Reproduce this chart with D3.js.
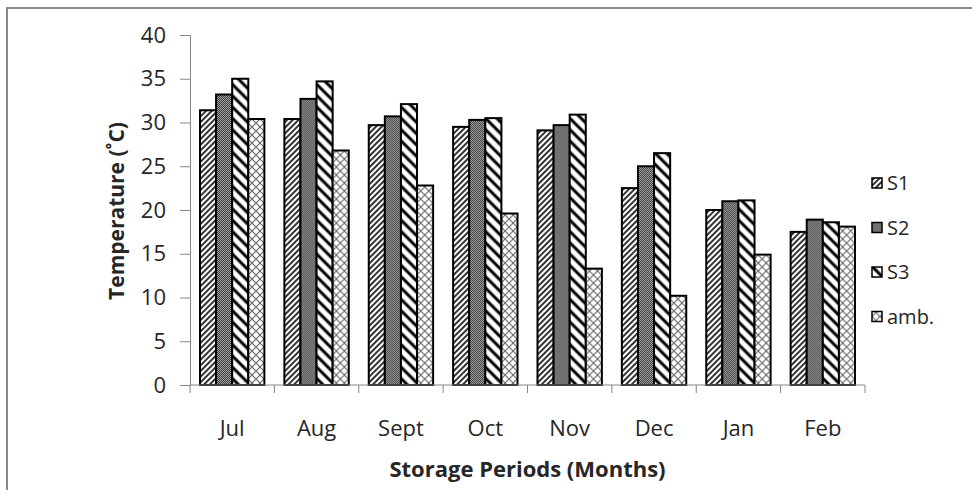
<!DOCTYPE html>
<html>
<head>
<meta charset="utf-8">
<script src="https://cdn.jsdelivr.net/npm/d3@7"></script>
<style>
  body { margin: 0; background: #fff; }
  text { font-family: "Open Sans", sans-serif; fill: #262626; }
</style>
</head>
<body>
<svg id="chart" width="972" height="490"></svg>
<script>
let months = ["Jul", "Aug", "Sept", "Oct", "Nov", "Dec", "Jan", "Feb"];
let seriesNames = ["S1", "S2", "S3", "amb."];
let s1Values = [31.4, 30.4, 29.7, 29.5, 29.1, 22.5, 20.0, 17.5];
let s2Values = [33.2, 32.7, 30.7, 30.3, 29.7, 25.0, 21.0, 18.9];
let s3Values = [35.0, 34.7, 32.1, 30.5, 30.9, 26.5, 21.1, 18.6];
let ambValues = [30.4, 26.8, 22.8, 19.6, 13.3, 10.2, 14.9, 18.1];
let yTicks = [0, 5, 10, 15, 20, 25, 30, 35, 40];

const svg = d3.select("#chart");
const margin = {left: 190, top: 35, right: 107, bottom: 105};
const width = 972, height = 490;
const plotW = width - margin.left - margin.right;
const plotH = height - margin.top - margin.bottom;

// outer frame (right/bottom edges fall off the picture)
svg.append("rect")
    .attr("x", 7).attr("y", 8)
    .attr("width", 1000).attr("height", 600)
    .attr("fill", "none")
    .attr("stroke", "#8a8a8a")
    .attr("stroke-width", 2);

// fill patterns
const defs = svg.append("defs");
function linePattern(id, size, angle, strokeW) {
    const p = defs.append("pattern")
        .attr("id", id)
        .attr("patternUnits", "userSpaceOnUse")
        .attr("width", size).attr("height", size)
        .attr("patternTransform", "rotate(" + angle + ")");
    p.append("rect").attr("width", size).attr("height", size).attr("fill", "#fff");
    p.append("line")
        .attr("x1", size / 2).attr("x2", size / 2)
        .attr("y1", 0).attr("y2", size)
        .attr("stroke", "#000").attr("stroke-width", strokeW);
}
linePattern("pS1", 4, 45, 1.6);
linePattern("pS3", 8, -45, 3);

let dots = defs.append("pattern")
    .attr("id", "pS2")
    .attr("patternUnits", "userSpaceOnUse")
    .attr("width", 2).attr("height", 2);
dots.append("rect").attr("width", 2).attr("height", 2).attr("fill", "#a8a8a8");
dots.append("rect").attr("width", 1).attr("height", 1).attr("fill", "#3a3a3a");
dots.append("rect").attr("x", 1).attr("y", 1).attr("width", 1).attr("height", 1).attr("fill", "#3a3a3a");

let cross = defs.append("pattern")
    .attr("id", "pAmb")
    .attr("patternUnits", "userSpaceOnUse")
    .attr("width", 8).attr("height", 8);
cross.append("rect").attr("width", 8).attr("height", 8).attr("fill", "#fff");
cross.append("path")
    .attr("d", "M0,0 L8,8 M8,0 L0,8")
    .attr("stroke", "#6a6a6a").attr("stroke-width", 1.2);

const fills = ["url(#pS1)", "url(#pS2)", "url(#pS3)", "url(#pAmb)"];
const allValues = [s1Values, s2Values, s3Values, ambValues];

const g = svg.append("g").attr("transform", "translate(" + margin.left + "," + margin.top + ")");

const x0 = d3.scaleBand().domain(months).range([0, plotW]).paddingInner(0.237).paddingOuter(0.1185);
const x1 = d3.scaleBand().domain(seriesNames).range([0, x0.bandwidth()]);
const y = d3.scaleLinear().domain([0, 40]).range([plotH, 0]);

// y axis
const yAxis = g.append("g")
    .call(d3.axisLeft(y).tickValues(yTicks).tickSize(10).tickPadding(14));
yAxis.select(".domain").attr("stroke", "#868686");
yAxis.selectAll(".tick line").attr("stroke", "#868686");
yAxis.selectAll(".tick text").attr("font-size", 22).attr("fill", "#262626")
    .style("font-family", "'Open Sans', sans-serif");

// bars
const rows = months.map((m, i) => ({month: m, vals: allValues.map((arr, k) => ({k: k, v: arr[i]}))}));
const groups = g.selectAll("g.grp")
    .data(rows)
    .enter().append("g")
    .attr("class", "grp")
    .attr("transform", d => "translate(" + x0(d.month) + ",0)");
groups.selectAll("rect")
    .data(d => d.vals)
    .enter().append("rect")
    .attr("x", d => x1(seriesNames[d.k]))
    .attr("y", d => y(d.v))
    .attr("width", x1.bandwidth())
    .attr("height", d => plotH - y(d.v))
    .attr("fill", d => fills[d.k])
    .attr("stroke", "#000")
    .attr("stroke-width", 2);

// x axis
const step = plotW / months.length;
const xAxisG = g.append("g").attr("transform", "translate(0," + plotH + ")");
xAxisG.append("line")
    .attr("x1", 0).attr("x2", plotW)
    .attr("stroke", "#868686");
xAxisG.selectAll("line.tk")
    .data(d3.range(months.length + 1))
    .enter().append("line")
    .attr("class", "tk")
    .attr("x1", i => i * step).attr("x2", i => i * step)
    .attr("y1", 0).attr("y2", 8)
    .attr("stroke", "#868686");
xAxisG.selectAll("text")
    .data(months)
    .enter().append("text")
    .attr("x", d => x0(d) + x0.bandwidth() / 2)
    .attr("y", 51)
    .attr("text-anchor", "middle")
    .attr("font-size", 22)
    .text(d => d);

// axis titles
svg.append("text")
    .attr("x", margin.left + plotW / 2)
    .attr("y", 477)
    .attr("text-anchor", "middle")
    .attr("font-size", 22)
    .attr("font-weight", "bold")
    .text("Storage Periods (Months)");
svg.append("text")
    .attr("transform", "translate(124,211) rotate(-90)")
    .attr("text-anchor", "middle")
    .attr("font-size", 21)
    .attr("font-weight", "bold")
    .text("Temperature (˚C)");

// legend
const legend = svg.append("g").attr("transform", "translate(872,183)");
seriesNames.forEach((name, i) => {
    const item = legend.append("g").attr("transform", "translate(0," + (i * 44.5) + ")");
    item.append("rect")
        .attr("x", 0).attr("y", -5)
        .attr("width", 10).attr("height", 10)
        .attr("fill", fills[i])
        .attr("stroke", "#000")
        .attr("stroke-width", 1.5);
    item.append("text")
        .attr("x", 15).attr("y", 7)
        .attr("font-size", 20)
        .text(name);
});
</script>
</body>
</html>
